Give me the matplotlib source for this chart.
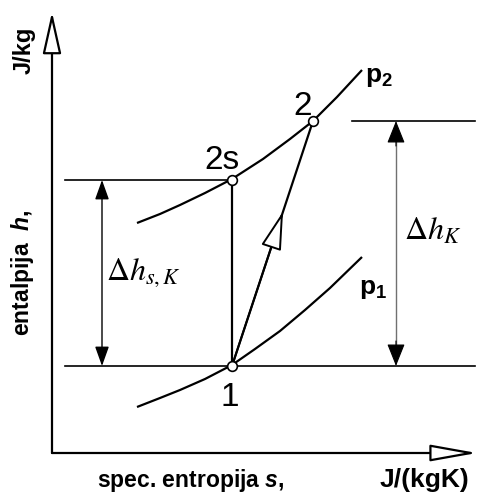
import matplotlib.pyplot as plt

plt.rcParams["mathtext.bf"] = "Liberation Sans:bold"
plt.rcParams["mathtext.it"] = "Liberation Sans:bold:italic"
plt.rcParams["mathtext.rm"] = "Liberation Sans"

# state points of the compression (s to the right, h upward; picture units)
state_names = ["1", "2s", "2"]
state_s = [232, 232, 313]
state_h = [366, 180, 121]

# isobars p1 and p2
p2_s = [137, 160, 180, 205, 232, 263, 290, 313, 337, 362]
p2_h = [223, 214, 205, 193, 179, 159, 139, 121, 97, 70]
p1_s = [137, 160, 180, 205, 232, 255, 280, 305, 330, 362]
p1_h = [407, 398, 390, 379, 365, 349, 331, 310, 288, 257]

W, H = 478, 494
fig = plt.figure(figsize=(W / 100, H / 100), dpi=100)
ax = fig.add_axes([0, 0, 1, 1])
ax.set_xlim(0, W)
ax.set_ylim(H, 0)
ax.axis("off")

bold = dict(family="Liberation Sans", weight="bold", color="black")
reg = dict(family="Liberation Sans", color="black")

# axes with hollow arrow heads
origin = (52, 453)
ax.annotate("", xy=(52, 12), xytext=origin,
            arrowprops=dict(arrowstyle="-|>,head_length=26,head_width=5.8",
                            fc="white", ec="black", lw=1.6,
                            shrinkA=0, shrinkB=0, mutation_scale=1))
ax.annotate("", xy=(477, 453), xytext=origin,
            arrowprops=dict(arrowstyle="-|>,head_length=29,head_width=5.2",
                            fc="white", ec="black", lw=1.6,
                            shrinkA=0, shrinkB=0, mutation_scale=1))

ax.text(24, 50, "J/kg", rotation=90, ha="center", va="center", fontsize=17, **bold)
ax.text(23, 273, "entalpija  $\\mathit{h}$,", rotation=90, ha="center", va="center",
        fontsize=16.5, math_fontfamily="custom", **bold)
ax.text(97, 480, "spec. entropija $\\mathit{s}$,", ha="left", va="center",
        fontsize=16.5, math_fontfamily="custom", **bold)
ax.text(469, 480, "J/(kgK)", ha="right", va="center", fontsize=19, **bold)

# isobars
ax.plot(p2_s, p2_h, color="black", lw=1.6, solid_capstyle="butt")
ax.plot(p1_s, p1_h, color="black", lw=1.6, solid_capstyle="butt")
ax.text(365, 76, "$\\mathbf{p_2}$", ha="left", va="center", fontsize=19,
        math_fontfamily="custom")
ax.text(359, 288, "$\\mathbf{p_1}$", ha="left", va="center", fontsize=19,
        math_fontfamily="custom")

s1, s2s, s2 = state_s
h1, h2s, h2 = state_h

# helper lines
ax.plot([65, 475], [h1, h1], color="black", lw=1.2)
ax.plot([65, s2s], [h2s, h2s], color="black", lw=1.2)
ax.plot([352, 475], [h2, h2], color="black", lw=1.2)

# isentropic and real compression
ax.plot([s1, s2s], [h1, h2s], color="black", lw=1.6)
ax.plot([s1, s2], [h1, h2], color="black", lw=1.6)
frac = 0.63
tip = (s1 + (s2 - s1) * frac, h1 + (h2 - h1) * frac)
ax.annotate("", xy=tip, xytext=(s1, h1),
            arrowprops=dict(arrowstyle="-|>,head_length=24,head_width=6.5",
                            fc="white", ec="black", lw=1.4,
                            shrinkA=0, shrinkB=0, mutation_scale=1), zorder=4)

ax.plot(state_s, state_h, "o", ms=7, mfc="white", mec="black", mew=1.2, zorder=5)
ax.text(222, 160, state_names[1], ha="center", va="center", fontsize=24, **reg)
ax.text(303, 106, state_names[2], ha="center", va="center", fontsize=24, **reg)
ax.text(230, 397, state_names[0], ha="center", va="center", fontsize=24, **reg)

# dimension arrows
ax.annotate("", xy=(102, h2s), xytext=(102, h1),
            arrowprops=dict(arrowstyle="<|-|>,head_length=12,head_width=4.3",
                            fc="black", ec="black", lw=1.0,
                            shrinkA=0, shrinkB=0, mutation_scale=1))
ax.text(106, 280, "$\\Delta h_{s,K}$", ha="left", va="baseline", fontsize=23,
        math_fontfamily="stix")

ax.plot([396, 396], [h2 + 14, h1 - 14], color="#707070", lw=1.0)
for h_end, h_from in [(h2, h2 + 25), (h1, h1 - 25)]:
    ax.annotate("", xy=(396, h_end), xytext=(396, h_from),
                arrowprops=dict(arrowstyle="-|>,head_length=14,head_width=5.6",
                                fc="black", ec="black", lw=0.8,
                                shrinkA=0, shrinkB=0, mutation_scale=1))
ax.text(404, 240, "$\\Delta h_K$", ha="left", va="baseline", fontsize=23,
        math_fontfamily="stix")

fig.savefig("out.png", dpi=100)
